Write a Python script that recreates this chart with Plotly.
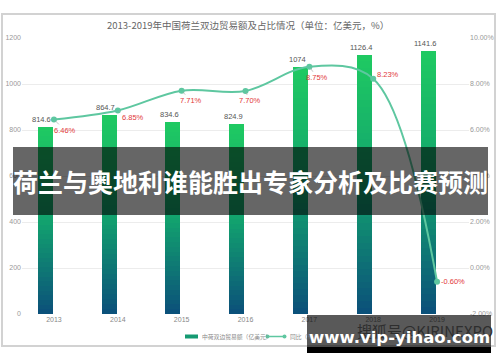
import plotly.graph_objects as go

# ---------------- data ----------------
years = ["2013", "2014", "2015", "2016", "2017", "2018", "2019"]
trade = [814.6, 864.7, 834.6, 824.9, 1074, 1126.4, 1141.6]          # 亿美元
share = [6.46, 6.85, 7.71, 7.70, 8.75, 8.23, -0.60]                  # %
left_ticks = [0, 200, 400, 600, 800, 1000, 1200]
right_ticks = [-2, 0, 2, 4, 6, 8, 10]

title_text = "2013-2019年中国荷兰双边贸易额及占比情况（单位：亿美元，%）"
legend_bar = "中荷双边贸易额（亿美元）"
legend_line = "同比（%）"
banner_text = "荷兰与奥地利谁能胜出专家分析及比赛预测"
wm_text = "www.vip-yihao.com"
wm_sub = "搜狐号@KIRINEXPO"

# ---------------- layout geometry ----------------
W, H = 500, 362
L, R, T, B = 22, 469, 38, 314


def px(x):
    return (x - L) / (R - L)


def py(y):
    return (B - y) / (B - T)


FONT = "Liberation Sans, Noto Sans CJK SC, sans-serif"
CJK = "Noto Sans CJK SC, sans-serif"

fig = go.Figure()

# gradient bars as stacked slices
N = 40
stops = [(0.0, (11, 79, 122)), (0.5, (18, 163, 110)), (1.0, (31, 202, 98))]


def grad(f):
    for (f0, c0), (f1, c1) in zip(stops[:-1], stops[1:]):
        if f <= f1:
            t = (f - f0) / (f1 - f0)
            return "rgb(%d,%d,%d)" % tuple(round(a + (b - a) * t) for a, b in zip(c0, c1))
    return "rgb(%d,%d,%d)" % stops[-1][1]


for i in range(N):
    fig.add_trace(go.Bar(
        x=years,
        y=[v / N * 1.02 if i < N - 1 else v / N for v in trade],
        base=[v * i / N for v in trade],
        width=0.235, offset=-0.255,
        marker=dict(color=grad((i + 0.5) / N), line=dict(width=0)),
        showlegend=False, hoverinfo="skip",
    ))

fig.add_trace(go.Scatter(
    x=years, y=share, yaxis="y2", mode="lines+markers",
    line=dict(color="#5ec7a0", width=2, shape="spline", smoothing=1.0),
    marker=dict(color="#5ec7a0", size=6),
    showlegend=False, hoverinfo="skip",
))

ann = []
# bar labels (category index used as x)
for idx, v in enumerate(trade):
    ann.append(dict(x=idx, y=v, xref="x", yref="y", text=("%g" % v),
                    showarrow=False, xshift=-12, yshift=1, xanchor="center", yanchor="bottom",
                    font=dict(family=FONT, size=7.5, color="#555")))
# line labels
label_offsets = [(11, 11), (15, 7), (9, 10), (4, 10), (8, 11), (15, -4), (16, 0)]
for idx, (v, (dx, dy)) in enumerate(zip(share, label_offsets)):
    ann.append(dict(x=idx, y=v, xref="x", yref="y2", text="%.2f%%" % v,
                    showarrow=True, ax=dx, ay=dy, arrowhead=0, arrowwidth=0.7,
                    arrowcolor="#aaa", standoff=2,
                    font=dict(family=FONT, size=7.5, color="#e2383a")))


def paper_text(x, y, text, size, color, family=CJK, xanchor="center"):
    ann.append(dict(x=px(x), y=py(y), xref="paper", yref="paper", text=text,
                    showarrow=False, xanchor=xanchor, yanchor="middle",
                    font=dict(family=family, size=size, color=color)))


paper_text(248, 25, title_text, 9.5, "#666")
paper_text(200, 336.5, legend_bar, 5.8, "#888", xanchor="left")
paper_text(288, 336.5, legend_line, 5.8, "#888", xanchor="left")
paper_text(250, 181, "<b>" + banner_text + "</b>", 25, "#ffffff")
paper_text(425, 330, wm_sub, 15, "#2e2e2e")
paper_text(399, 337, "<b>" + wm_text + "</b>", 16.5, "#ffffff", family="DejaVu Sans, sans-serif")

shapes = [
    # frame
    dict(type="rect", xref="paper", yref="paper", x0=px(2), x1=px(495), y0=py(346), y1=py(14),
         line=dict(color="#d2d2d2", width=2), fillcolor="rgba(0,0,0,0)", layer="below"),
    # legend icons
    dict(type="rect", xref="paper", yref="paper", x0=px(185), x1=px(198), y0=py(338.5), y1=py(334.5),
         line=dict(width=0), fillcolor="#159a72"),
    dict(type="line", xref="paper", yref="paper", x0=px(267), x1=px(285), y0=py(336.5), y1=py(336.5),
         line=dict(color="#5ec7a0", width=1.5)),
    dict(type="circle", xref="paper", yref="paper", x0=px(265.5), x1=px(269.5), y0=py(338.5), y1=py(334.5),
         line=dict(width=0), fillcolor="#5ec7a0"),
    dict(type="circle", xref="paper", yref="paper", x0=px(282.5), x1=px(286.5), y0=py(338.5), y1=py(334.5),
         line=dict(width=0), fillcolor="#5ec7a0"),
    # banner overlay
    dict(type="rect", xref="paper", yref="paper", x0=px(13), x1=px(488), y0=py(215), y1=py(147),
         line=dict(width=0), fillcolor="rgba(0,0,0,0.6)", layer="above"),
    # watermark box
    dict(type="rect", xref="paper", yref="paper", x0=px(307), x1=px(491), y0=py(347), y1=py(315),
         line=dict(width=0), fillcolor="rgba(0,0,0,0.65)", layer="above"),
    dict(type="rect", xref="paper", yref="paper", x0=px(307), x1=px(491), y0=py(353), y1=py(347),
         line=dict(width=0), fillcolor="#000000", layer="above"),
]

fig.update_layout(
    width=W, height=H,
    margin=dict(l=L, r=W - R, t=T, b=H - B, pad=0, autoexpand=False),
    paper_bgcolor="white", plot_bgcolor="white",
    barmode="overlay", bargap=0,
    showlegend=False,
    annotations=ann, shapes=shapes,
    xaxis=dict(type="category", categoryorder="array", categoryarray=years,
               range=[-0.5, len(years) - 0.5], autorange=False, automargin=False,
               tickfont=dict(family=FONT, size=7, color="#888"), ticks="",
               showgrid=False, showline=False, zeroline=False, fixedrange=True),
    yaxis=dict(range=[0, 1200], tickvals=left_ticks, ticktext=[str(t) for t in left_ticks],
               automargin=False,
               tickfont=dict(family=FONT, size=7, color="#999"), ticks="", ticklen=0,
               showgrid=True, gridcolor="#ececec", gridwidth=1, zeroline=False, showline=False,
               fixedrange=True),
    yaxis2=dict(range=[-2, 10], tickvals=right_ticks, ticktext=["%.2f%%" % t for t in right_ticks],
                overlaying="y", side="right", showgrid=False, zeroline=False, showline=False,
                automargin=False,
                tickfont=dict(family=FONT, size=7, color="#999"), ticks="", fixedrange=True),
)

fig.write_html("out.html", config={"displayModeBar": False},
               post_script="document.body.style.margin='0px';document.body.style.padding='0px';")
